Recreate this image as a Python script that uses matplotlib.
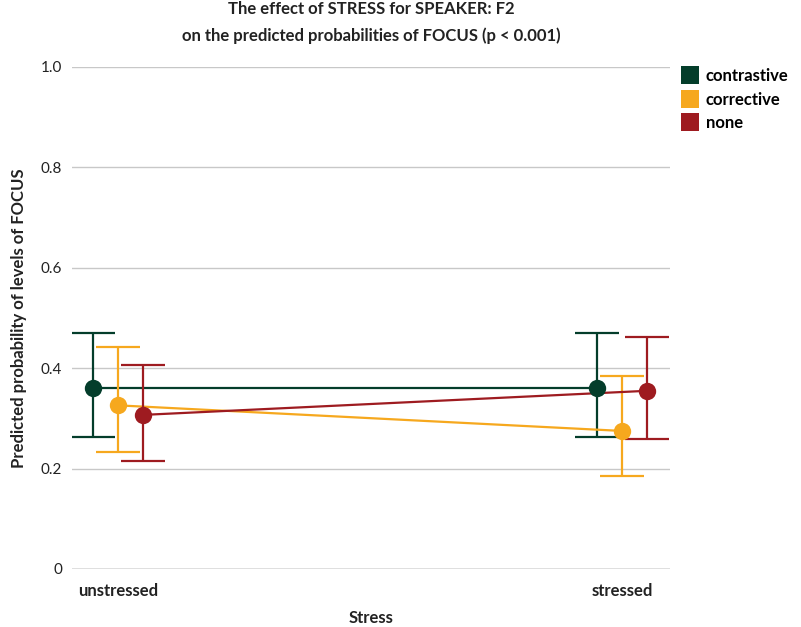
import matplotlib
matplotlib.use("Agg")
import matplotlib.pyplot as plt
from matplotlib.lines import Line2D
import numpy as np

plt.rcParams['font.family'] = ['Lato', 'DejaVu Sans']

categories = ["unstressed", "stressed"]
levels = ["contrastive", "corrective", "none"]
colors = ["#043d2b", "#f6a81e", "#9e1b20"]
estimates = {
    "contrastive": [0.360, 0.360],
    "corrective": [0.326, 0.275],
    "none": [0.307, 0.355],
}
lower = {
    "contrastive": [0.263, 0.263],
    "corrective": [0.233, 0.185],
    "none": [0.215, 0.259],
}
upper = {
    "contrastive": [0.470, 0.470],
    "corrective": [0.442, 0.384],
    "none": [0.406, 0.462],
}

fig = plt.figure(figsize=(8.01, 6.27), dpi=100)
ax = fig.add_axes([72/801, 1-569/627, (670-72)/801, (569-67)/627])

offsets = [-0.05, 0.0, 0.05]
xbase = np.arange(len(categories))
for lvl, col, off in zip(levels, colors, offsets):
    x = xbase + off
    y = np.array(estimates[lvl])
    lo = np.array(lower[lvl]); hi = np.array(upper[lvl])
    ax.plot(x, y, color=col, lw=1.6, zorder=3)
    ax.errorbar(x, y, yerr=[y - lo, hi - y], fmt='none', ecolor=col,
                elinewidth=1.6, capsize=16, capthick=1.6, zorder=3)
    ax.plot(x, y, 'o', color=col, markersize=12.5, zorder=4, markeredgewidth=0)

ax.set_xlim(-0.0913, 1.095)
ax.set_ylim(0, 1)
ax.set_yticks([0, 0.2, 0.4, 0.6, 0.8, 1.0])
ax.set_yticklabels(["0", "0.2", "0.4", "0.6", "0.8", "1.0"])
ax.set_xticks(xbase)
ax.set_xticklabels(categories, fontweight='bold')
ax.grid(axis='y', color='#c8c8c8', lw=1)
ax.axhline(0, color='#8a8a8a', lw=1, zorder=1)
ax.set_axisbelow(True)
for s in ax.spines.values():
    s.set_visible(False)
ax.tick_params(axis='y', length=0, pad=7, labelsize=11, labelcolor='#222222')
ax.tick_params(axis='x', length=0, pad=10, labelsize=12, labelcolor='#222222')

ax.set_xlabel("Stress", fontweight='bold', fontsize=12, labelpad=8, color='#222222')
ax.set_ylabel("Predicted probability of levels of FOCUS", fontweight='bold',
              fontsize=12, labelpad=10, color='#222222')
ax.set_title("The effect of STRESS for SPEAKER: F2\non the predicted probabilities of FOCUS (p < 0.001)",
             fontweight='bold', fontsize=12, color='#222222', pad=19, linespacing=1.75)

handles = [Line2D([0], [0], marker='s', color='w', markerfacecolor=c,
                  markersize=13, markeredgewidth=0) for c in colors]
fig.legend(handles, levels, loc='upper left', bbox_to_anchor=(665/801, 1-53/627),
           frameon=False, prop={'weight': 'bold', 'size': 12},
           handletextpad=0.35, labelspacing=0.45, handlelength=1.2)

fig.savefig("out.png", dpi=100)
